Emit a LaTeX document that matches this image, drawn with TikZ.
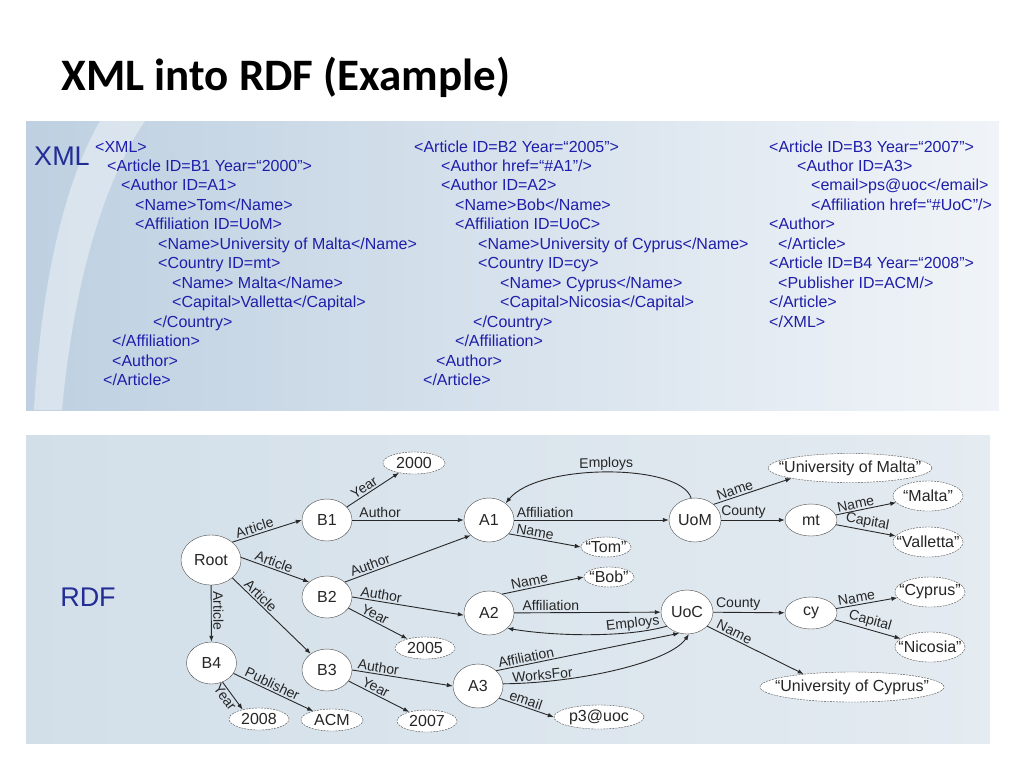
\documentclass[tikz,border=0pt]{standalone}
\usepackage{fontspec}
\setmainfont{Liberation Sans}
\newfontfamily\titlefont{Carlito}
\usetikzlibrary{shapes.geometric,arrows.meta}

\definecolor{xmlblue}{RGB}{30,30,170}
\definecolor{headblue}{RGB}{35,45,150}
\definecolor{edgegray}{RGB}{40,40,40}
\definecolor{panelleft}{RGB}{190,208,225}
\definecolor{panelright}{RGB}{240,244,248}
\definecolor{rdfleft}{RGB}{210,223,233}
\definecolor{rdfright}{RGB}{228,235,241}

\tikzset{
  xmlline/.style={anchor=west, text=xmlblue, inner sep=0pt, text height=11pt, text depth=3pt,
    font=\fontsize{16}{16}\selectfont},
  res/.style={ellipse, draw=black!70, fill=white, inner xsep=-40pt, inner ysep=-20pt,
    minimum width=50pt, minimum height=42pt, text=black!85, font=\fontsize{16}{16}\selectfont},
  lit/.style={res, dash pattern=on 2pt off 1pt, minimum width=60pt, minimum height=22pt},
  link/.style={draw=edgegray, line width=0.9pt, -{Latex[length=6pt,width=4.5pt]}},
  lbl/.style={sloped, above, inner sep=1.5pt, text=black!85, font=\fontsize{14}{14}\selectfont}
}

\begin{document}
\begin{tikzpicture}[x=1pt, y=-1pt]
    \useasboundingbox (0,0) rectangle (1024,768); % page frame

    % Title
    \node[anchor=west, font=\titlefont\bfseries\fontsize{45}{45}\selectfont] (title) at (58,77) {XML into RDF (Example)};

    % XML panel
    \shade[left color=panelleft, right color=panelright] (26,121) rectangle (999,410);
    \fill[white, opacity=0.4] (100,121) .. controls (60,190) and (40,300) .. (34,410) -- (62,410) .. controls (72,300) and (98,190) .. (145,121) -- cycle; % swoosh
    \node[text=headblue, font=\fontsize{27}{27}\selectfont] (xmlhead) at (62,156) {XML};

    \node[xmlline] (x1) at (95,148) {<XML>};
    \node[xmlline] (x2) at (107,167) {<Article ID=B1 Year=“2000”>};
    \node[xmlline] (x3) at (121,186) {<Author ID=A1>};
    \node[xmlline] (x4) at (135,206) {<Name>Tom</Name>};
    \node[xmlline] (x5) at (135,225) {<Affiliation ID=UoM>};
    \node[xmlline] (x6) at (158,245) {<Name>University of Malta</Name>};
    \node[xmlline] (x7) at (158,264) {<Country ID=mt>};
    \node[xmlline] (x8) at (172,284) {<Name> Malta</Name>};
    \node[xmlline] (x9) at (172,303) {<Capital>Valletta</Capital>};
    \node[xmlline] (x10) at (153,323) {</Country>};
    \node[xmlline] (x11) at (112,342) {</Affiliation>};
    \node[xmlline] (x12) at (112,362) {<Author>};
    \node[xmlline] (x13) at (103,381) {</Article>};

    \node[xmlline] (y1) at (414,148) {<Article ID=B2 Year=“2005”>};
    \node[xmlline] (y2) at (441,167) {<Author href=“\#A1”/>};
    \node[xmlline] (y3) at (441,186) {<Author ID=A2>};
    \node[xmlline] (y4) at (455,206) {<Name>Bob</Name>};
    \node[xmlline] (y5) at (455,225) {<Affiliation ID=UoC>};
    \node[xmlline] (y6) at (478,245) {<Name>University of Cyprus</Name>};
    \node[xmlline] (y7) at (478,264) {<Country ID=cy>};
    \node[xmlline] (y8) at (500,284) {<Name> Cyprus</Name>};
    \node[xmlline] (y9) at (500,303) {<Capital>Nicosia</Capital>};
    \node[xmlline] (y10) at (473,323) {</Country>};
    \node[xmlline] (y11) at (455,342) {</Affiliation>};
    \node[xmlline] (y12) at (436,362) {<Author>};
    \node[xmlline] (y13) at (423,381) {</Article>};

    \node[xmlline] (z1) at (769,148) {<Article ID=B3 Year=“2007”>};
    \node[xmlline] (z2) at (797,167) {<Author ID=A3>};
    \node[xmlline] (z3) at (811,186) {<email>ps@uoc</email>};
    \node[xmlline] (z4) at (811,206) {<Affiliation href=“\#UoC”/>};
    \node[xmlline] (z5) at (769,225) {<Author>};
    \node[xmlline] (z6) at (778,245) {</Article>};
    \node[xmlline] (z7) at (769,264) {<Article ID=B4 Year=“2008”>};
    \node[xmlline] (z8) at (778,284) {<Publisher ID=ACM/>};
    \node[xmlline] (z9) at (769,303) {</Article>};
    \node[xmlline] (z10) at (769,323) {</XML>};

    % RDF panel
    \shade[left color=rdfleft, right color=rdfright] (26,435) rectangle (990,743);
    \node[text=headblue, font=\fontsize{27}{27}\selectfont] (rdfhead) at (88,597) {RDF};

    % resources
    \node[res, minimum width=60pt, minimum height=50pt] (root) at (211,560) {Root};
    \node[res] (b1) at (327,520) {B1};
    \node[res] (b2) at (327,597) {B2};
    \node[res] (b3) at (327,670) {B3};
    \node[res] (b4) at (211.5,663) {B4};
    \node[res, minimum height=44pt] (a1) at (489,520) {A1};
    \node[res, minimum height=44pt] (a2) at (489,613) {A2};
    \node[res, minimum height=44pt] (a3) at (478,686) {A3};
    \node[res, minimum width=52pt, minimum height=44pt] (uom) at (695,520) {UoM};
    \node[res, minimum width=52pt, minimum height=44pt] (uoc) at (687,612) {UoC};
    \node[res, minimum width=52pt, minimum height=32pt] (mt) at (811,520) {mt};
    \node[res, minimum width=52pt, minimum height=32pt] (cy) at (811,613) {cy};

    % literals
    \node[lit, minimum width=62pt] (y2000) at (414,463) {2000};
    \node[lit, minimum width=50pt, minimum height=20pt] (tom) at (606,547) {“Tom”};
    \node[lit, minimum width=50pt, minimum height=20pt] (bob) at (609,577) {“Bob”};
    \node[lit] (y2005) at (425,648) {2005};
    \node[lit] (y2007) at (427,721) {2007};
    \node[lit] (y2008) at (259,719) {2008};
    \node[lit, minimum width=62pt] (acm) at (332,720) {ACM};
    \node[lit, minimum width=90pt, minimum height=24pt] (mail) at (599,717) {p3@uoc};
    \node[lit, minimum width=164pt, minimum height=29pt] (unimt) at (850,468) {“University of Malta”};
    \node[lit, minimum width=70pt, minimum height=30pt] (malta) at (928,496) {“Malta”};
    \node[lit, minimum width=70pt, minimum height=30pt] (valletta) at (928,542) {“Valletta”};
    \node[lit, minimum width=70pt, minimum height=30pt] (cyprus) at (930,592) {“Cyprus”};
    \node[lit, minimum width=70pt, minimum height=30pt] (nicosia) at (930,647) {“Nicosia”};
    \node[lit, minimum width=184pt, minimum height=30pt] (unicy) at (852,687) {“University of Cyprus”};

    % Root and articles
    \draw[link] (root.40) -- node[lbl, pos=0.35] {Article} (b1.west);
    \draw[link] (root.5) -- node[lbl, pos=0.45] {Article} (b2.140);
    \draw[link] (root.-40) -- node[lbl, pos=0.3] {Article} (b3.135);
    \draw[link] (root) -- node[lbl, pos=0.45] {Article} (b4);
    \draw[link] (b1) -- node[lbl, pos=0.4] {Year} (y2000);
    \draw[link] (b1) -- node[lbl, pos=0.25] {Author} (a1);
    \draw[link] (b2.40) -- node[lbl, pos=0.22] {Author} (a1.220);
    \draw[link] (b2.east) -- node[lbl, pos=0.25] {Author} (a2.185);
    \draw[link] (b2) -- node[lbl, pos=0.4] {Year} (y2005);
    \draw[link] (b3.east) -- node[lbl, pos=0.25] {Author} (a3.west);
    \draw[link] (b3) -- node[lbl, pos=0.4] {Year} (y2007);
    \draw[link] (b4.-60) -- node[lbl, below, pos=0.4] {Year} (y2008.150);
    \draw[link] (b4) -- node[lbl, pos=0.45] {Publisher} (acm);

    % authors
    \draw[link] (a1) -- node[lbl, pos=0.2] {Affiliation} (uom);
    \draw[link] (a1.-35) -- node[lbl, pos=0.35] {Name} (tom.west);
    \draw[link] (uom.100) .. controls (680,463) and (538,463) .. node[lbl, pos=0.5] {Employs} (a1.45);
    \draw[link] (a2.55) -- node[lbl, pos=0.35] {Name} (bob.west);
    \draw[link] (a2) -- node[lbl, pos=0.25] {Affiliation} (uoc);
    \draw[link] (uoc.215) .. controls (630,637) and (560,637) .. node[lbl, pos=0.25] {Employs} (a2.320);
    \draw[link] (a3.40) -- node[lbl, pos=0.17] {Affiliation} (uoc.250);
    \draw[link] (a3.5) .. controls (580,683) and (670,662) .. node[lbl, pos=0.17] {WorksFor} (uoc.275);
    \draw[link] (a3.-30) -- node[lbl, pos=0.45] {email} (mail.west);

    % affiliations and countries
    \draw[link] (uom.40) -- node[lbl, pos=0.3] {Name} (unimt.190);
    \draw[link] (uom) -- node[lbl, pos=0.35] {County} (mt);
    \draw[link] (mt) -- node[lbl, pos=0.35] {Name} (malta);
    \draw[link] (mt) -- node[lbl, pos=0.5] {Capital} (valletta);
    \draw[link] (uoc) -- node[lbl, pos=0.35] {County} (cy);
    \draw[link] (uoc.-35) -- node[lbl, pos=0.25] {Name} (unicy.165);
    \draw[link] (cy) -- node[lbl, pos=0.35] {Name} (cyprus);
    \draw[link] (cy) -- node[lbl, pos=0.5] {Capital} (nicosia);
\end{tikzpicture}
\end{document}
